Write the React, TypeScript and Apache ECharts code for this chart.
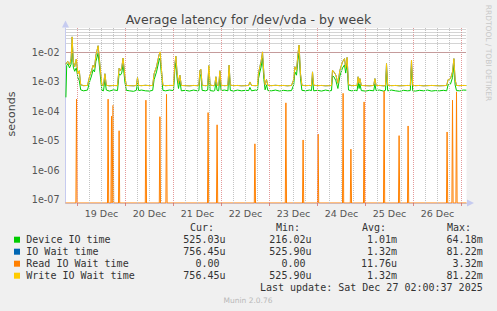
import { useEffect, useRef } from "react";
import * as echarts from "echarts";

// ---------- data (x = hours since Thu 18 Dec 2025 18:00) ----------
const TITLE = "Average latency for /dev/vda - by week";
const Y_NAME = "seconds";
const SIDE_TEXT = "RRDTOOL / TOBI OETIKER";

const dayLabels = ["19 Dec", "20 Dec", "21 Dec", "22 Dec", "23 Dec", "24 Dec", "25 Dec", "26 Dec"];
const dayLabelHours = [18, 42, 66, 90, 114, 138, 162, 186]; // noon of each day
const midnightHours = [6, 30, 54, 78, 102, 126, 150, 174, 198];

const yTickValues = [1e-7, 1e-6, 1e-5, 1e-4, 1e-3, 1e-2];
const yTickLabels = ["1e-07", "1e-06", "1e-05", "1e-04", "1e-03", "1e-02"];

// [hour, seconds]
const writeIO: [number, number][] = [
  [0.2, 4.0e-3], [0.6, 4.6e-3], [1.2, 5.0e-3], [2.0, 3.8e-3], [2.8, 6.0e-3], [3.3, 3.4e-2], [3.9, 5.0e-3],
  [4.6, 3.3e-3], [5.4, 6.0e-3], [6.2, 1.9e-3], [6.9, 2.4e-3], [7.6, 8.0e-4], [9.0, 7.5e-4], [11.0, 7.6e-4],
  [12.2, 1.7e-3], [13.0, 2.4e-3], [13.8, 3.7e-3], [14.5, 3.0e-3], [15.2, 8.1e-3], [15.8, 1.2e-2], [16.3, 1.7e-2],
  [17.0, 5.5e-3], [17.6, 2.0e-3], [18.2, 7.8e-4], [19.0, 7.6e-4], [19.7, 1.9e-3], [20.4, 7.7e-4], [22.0, 7.4e-4],
  [24.0, 7.6e-4], [26.0, 7.5e-4], [26.8, 2.9e-3], [27.4, 2.4e-3], [28.1, 3.0e-3], [28.8, 6.5e-3], [29.7, 1.5e-3],
  [30.4, 7.6e-4], [32.0, 7.5e-4], [34.0, 7.4e-4], [35.4, 7.6e-4], [36.0, 1.4e-3], [36.6, 7.6e-4], [38.0, 7.5e-4],
  [40.0, 7.7e-4], [42.0, 7.5e-4], [43.6, 7.6e-4], [44.3, 1.9e-3], [45.5, 3.3e-3], [46.8, 8.5e-3], [47.3, 1.05e-2],
  [48.0, 2.5e-3], [48.7, 7.7e-4], [50.0, 7.5e-4], [52.0, 7.6e-4], [54.0, 7.6e-4], [54.7, 4.2e-3], [55.2, 7.5e-3],
  [55.8, 2.0e-3], [56.5, 9.0e-4], [57.2, 1.7e-3], [57.9, 7.6e-4], [60.0, 7.5e-4], [62.0, 7.4e-4], [64.0, 7.6e-4],
  [66.0, 7.5e-4], [66.7, 7.6e-4], [67.2, 2.5e-3], [67.7, 2.7e-3], [68.3, 7.7e-4], [70.0, 7.5e-4], [71.1, 7.6e-4],
  [71.7, 3.6e-3], [72.3, 7.8e-4], [74.0, 7.5e-4], [74.6, 7.6e-4], [75.2, 1.5e-3], [75.8, 7.6e-4], [76.6, 7.5e-4],
  [77.2, 2.4e-3], [77.8, 7.7e-4], [79.5, 7.5e-4], [81.2, 7.6e-4], [81.8, 3.7e-3], [82.4, 7.8e-4], [84.0, 7.5e-4],
  [86.0, 7.6e-4], [88.0, 7.4e-4], [90.0, 7.5e-4], [91.6, 7.6e-4], [92.2, 1.0e-3], [93.0, 7.6e-4], [95.0, 7.5e-4],
  [96.0, 7.6e-4], [96.5, 2.0e-3], [97.2, 3.3e-3], [97.8, 5.0e-3], [98.5, 1.05e-2], [99.2, 1.9e-3], [99.8, 8.0e-4],
  [100.5, 1.2e-3], [101.2, 7.6e-4], [103.0, 7.5e-4], [105.0, 7.7e-4], [107.0, 7.5e-4], [109.0, 7.6e-4], [111.0, 7.4e-4],
  [113.0, 7.6e-4], [114.1, 1.2e-3], [114.7, 3.3e-3], [115.5, 2.5e-3], [116.3, 1.0e-2], [116.8, 1.8e-2], [117.5, 1.9e-3],
  [118.2, 7.7e-4], [120.0, 7.5e-4], [122.0, 7.6e-4], [123.0, 7.5e-4], [123.5, 2.2e-3], [124.1, 7.7e-4], [126.0, 7.5e-4],
  [128.0, 7.6e-4], [130.0, 7.4e-4], [132.0, 7.5e-4], [133.0, 7.6e-4], [133.5, 2.5e-3], [134.2, 2.2e-3], [135.2, 1.7e-3],
  [136.2, 9.0e-4], [137.2, 2.5e-3], [138.5, 4.8e-3], [139.5, 6.2e-3], [140.1, 3.0e-3], [140.8, 6.8e-3], [141.5, 8.0e-4],
  [143.0, 7.5e-4], [145.0, 7.6e-4], [145.8, 7.5e-4], [146.3, 1.5e-3], [146.8, 9.0e-4], [147.2, 1.3e-3], [147.9, 7.6e-4],
  [150.0, 7.5e-4], [152.0, 7.4e-4], [154.1, 7.6e-4], [154.7, 1.3e-3], [155.3, 7.5e-4], [157.0, 7.6e-4], [159.0, 7.4e-4],
  [160.0, 7.5e-4], [160.5, 4.2e-3], [161.1, 7.7e-4], [163.0, 7.5e-4], [165.0, 7.6e-4], [167.0, 7.4e-4], [169.0, 7.5e-4],
  [171.0, 7.6e-4], [172.4, 7.5e-4], [173.0, 5.5e-3], [173.6, 7.7e-4], [175.0, 7.5e-4], [177.0, 7.6e-4], [179.0, 7.4e-4],
  [181.0, 7.5e-4], [183.0, 7.6e-4], [185.0, 7.5e-4], [187.0, 7.4e-4], [189.0, 7.5e-4], [190.6, 7.6e-4], [191.3, 1.2e-3],
  [192.5, 1.3e-3], [193.5, 2.2e-3], [194.2, 6.2e-3], [194.8, 1.2e-3], [195.5, 7.6e-4], [197.0, 7.5e-4], [199.0, 7.6e-4],
  [200.4, 7.56e-4],
];

const deviceIO: [number, number][] = [
  [0.2, 3.0e-4], [0.6, 3.6e-3], [1.2, 4.2e-3], [2.0, 3.0e-3], [2.8, 4.0e-3], [3.3, 1.8e-2], [3.9, 3.2e-3],
  [4.6, 2.3e-3], [5.4, 3.0e-3], [6.2, 1.4e-3], [6.9, 1.1e-3], [7.6, 5.4e-4], [9.0, 5.0e-4], [11.0, 5.3e-4],
  [12.2, 1.1e-3], [13.0, 1.6e-3], [13.8, 2.6e-3], [14.5, 2.2e-3], [15.2, 5.0e-3], [15.8, 7.0e-3], [16.3, 9.5e-3],
  [17.0, 3.2e-3], [17.6, 1.2e-3], [18.2, 5.2e-4], [19.0, 5.0e-4], [19.7, 1.2e-3], [20.4, 5.3e-4], [22.0, 4.9e-4],
  [24.0, 5.4e-4], [26.0, 5.1e-4], [26.8, 1.9e-3], [27.4, 1.7e-3], [28.1, 2.0e-3], [28.8, 4.0e-3], [29.7, 1.0e-3],
  [30.4, 5.2e-4], [32.0, 5.0e-4], [34.0, 4.8e-4], [35.4, 5.2e-4], [36.0, 9.0e-4], [36.6, 5.1e-4], [38.0, 5.3e-4],
  [40.0, 5.0e-4], [42.0, 4.9e-4], [43.6, 5.2e-4], [44.3, 1.2e-3], [45.5, 2.2e-3], [46.8, 5.5e-3], [47.3, 6.5e-3],
  [48.0, 1.6e-3], [48.7, 5.2e-4], [50.0, 5.0e-4], [52.0, 5.3e-4], [54.0, 5.1e-4], [54.7, 2.7e-3], [55.2, 4.5e-3],
  [55.8, 1.3e-3], [56.5, 6.0e-4], [57.2, 1.1e-3], [57.9, 5.0e-4], [60.0, 5.2e-4], [62.0, 4.9e-4], [64.0, 5.3e-4],
  [66.0, 5.0e-4], [66.7, 5.1e-4], [67.2, 1.6e-3], [67.7, 1.8e-3], [68.3, 5.2e-4], [70.0, 5.0e-4], [71.1, 5.3e-4],
  [71.7, 2.3e-3], [72.3, 5.1e-4], [74.0, 4.9e-4], [74.6, 5.1e-4], [75.2, 1.0e-3], [75.8, 5.2e-4], [76.6, 5.0e-4],
  [77.2, 1.5e-3], [77.8, 5.1e-4], [79.5, 5.3e-4], [81.2, 5.0e-4], [81.8, 2.4e-3], [82.4, 5.2e-4], [84.0, 4.9e-4],
  [86.0, 5.3e-4], [88.0, 5.0e-4], [90.0, 5.2e-4], [91.6, 5.1e-4], [92.2, 6.5e-4], [93.0, 5.0e-4], [95.0, 5.3e-4],
  [96.0, 5.1e-4], [96.5, 1.3e-3], [97.2, 2.2e-3], [97.8, 3.2e-3], [98.5, 6.5e-3], [99.2, 1.2e-3], [99.8, 5.4e-4],
  [100.5, 8.0e-4], [101.2, 5.1e-4], [103.0, 5.0e-4], [105.0, 5.3e-4], [107.0, 4.9e-4], [109.0, 5.2e-4], [111.0, 5.0e-4],
  [113.0, 5.1e-4], [114.1, 8.0e-4], [114.7, 2.2e-3], [115.5, 1.7e-3], [116.3, 6.0e-3], [116.8, 1.0e-2], [117.5, 1.3e-3],
  [118.2, 5.2e-4], [120.0, 5.0e-4], [122.0, 5.3e-4], [123.0, 5.1e-4], [123.5, 1.4e-3], [124.1, 5.0e-4], [126.0, 5.2e-4],
  [128.0, 4.9e-4], [130.0, 5.3e-4], [132.0, 5.0e-4], [133.0, 5.1e-4], [133.5, 1.6e-3], [134.2, 1.5e-3], [135.2, 1.1e-3],
  [136.2, 6.0e-4], [137.2, 1.6e-3], [138.5, 3.0e-3], [139.5, 3.8e-3], [140.1, 2.0e-3], [140.8, 4.2e-3], [141.5, 5.3e-4],
  [143.0, 5.0e-4], [145.0, 5.2e-4], [145.8, 5.0e-4], [146.3, 1.0e-3], [146.8, 6.0e-4], [147.2, 8.5e-4], [147.9, 5.1e-4],
  [150.0, 4.9e-4], [152.0, 5.2e-4], [154.1, 5.0e-4], [154.7, 8.5e-4], [155.3, 5.1e-4], [157.0, 5.3e-4], [159.0, 4.9e-4],
  [160.0, 5.2e-4], [160.5, 2.6e-3], [161.1, 5.0e-4], [163.0, 5.3e-4], [165.0, 5.0e-4], [167.0, 4.8e-4], [169.0, 5.2e-4],
  [171.0, 5.0e-4], [172.4, 5.1e-4], [173.0, 3.4e-3], [173.6, 5.0e-4], [175.0, 4.9e-4], [177.0, 5.2e-4], [179.0, 5.0e-4],
  [181.0, 5.3e-4], [183.0, 4.9e-4], [185.0, 5.1e-4], [187.0, 5.0e-4], [189.0, 5.2e-4], [190.6, 5.0e-4], [191.3, 8.0e-4],
  [192.5, 8.5e-4], [193.5, 1.4e-3], [194.2, 3.8e-3], [194.8, 8.0e-4], [195.5, 5.1e-4], [197.0, 5.0e-4], [199.0, 5.3e-4],
  [200.4, 5.25e-4],
];

// IO Wait time equals the write wait here (read wait is zero almost everywhere)
const ioWait: [number, number][] = writeIO;

// Read IO wait: zero except for these spikes
const readSpikeHours = [5.5, 21.3, 23.0, 23.8, 26.8, 40.2, 47.2, 50.5, 71.3, 75.8, 94.7, 110.2, 118.8, 126.3,
  138.8, 142.7, 149.3, 159.3, 166.8, 171.3, 190.8, 193.5, 195.5];
const readSpikeValues = [2.6e-4, 2.6e-4, 6.9e-5, 1.6e-4, 2.2e-5, 2.4e-4, 6.6e-5, 3.8e-4, 9.1e-5, 3.5e-5, 7.9e-6,
  1.95e-4, 1.07e-5, 1.7e-5, 4.1e-4, 5.2e-6, 2.1e-4, 4.9e-4, 1.5e-5, 3.2e-5, 2.0e-5, 2.4e-4, 4.6e-4];

const legendNames = ["Device IO time", "IO Wait time", "Read IO Wait time", "Write IO Wait time"];
const legendColors = ["#00CC00", "#0066B3", "#FF8000", "#FFCC00"];
const columnHeads = ["Cur:", "Min:", "Avg:", "Max:"];
const curVals = ["525.03u", "756.45u", "0.00", "756.45u"];
const minVals = ["216.02u", "525.90u", "0.00", "525.90u"];
const avgVals = ["1.01m", "1.32m", "11.76u", "1.32m"];
const maxVals = ["64.18m", "81.22m", "3.32m", "81.22m"];
const LAST_UPDATE = "Last update: Sat Dec 27 02:00:37 2025";
const VERSION = "Munin 2.0.76";

// ---------- layout ----------
const W = 497;
const H = 311;
const GRID_LEFT = 65.5;
const GRID_TOP = 28;
const GRID_W = 401;
const GRID_H = 175;
const X_MAX = 200.5;
const Y_MIN = Math.pow(10, -7.112);
const Y_MAX = Math.pow(10, -1.167);

const MONO = '"DejaVu Sans Mono", monospace';
const SANS = '"DejaVu Sans", sans-serif';
const CHAR_W = 6.02;

function buildOption() {
  // read series with zero floor
  const readData: [number, number][] = [[0, Y_MIN]];
  readSpikeHours.forEach((h, i) => {
    readData.push([h - 0.3, Y_MIN]);
    readData.push([h, readSpikeValues[i]]);
    readData.push([h + 0.3, Y_MIN]);
  });
  readData.push([X_MAX, Y_MIN]);

  const vMajor = { color: "#e49a9a", width: 1, type: [1, 1] as number[] };
  const vMinor = { color: "#c4c4c4", width: 1, type: [1, 1] as number[] };
  const hMajor = { color: "#de8a8a", width: 1, type: [1, 1] as number[], dashOffset: 0.5 };
  const hMinor = { color: "#a8a8a8", width: 1, type: [1, 1] as number[], dashOffset: 0.5 };

  const gridLines: any[] = [];
  for (let h = 6; h < X_MAX; h += 6) {
    const isMid = midnightHours.indexOf(h) >= 0;
    gridLines.push({ xAxis: h, lineStyle: isMid ? vMajor : vMinor });
  }
  for (let e = -8; e <= -1; e++) {
    for (let m = 1; m <= 9; m++) {
      const v = m * Math.pow(10, e);
      if (v <= Y_MIN || v >= Y_MAX) continue;
      gridLines.push({ yAxis: v, lineStyle: m === 1 ? hMajor : hMinor });
    }
  }

  const graphics: any[] = [];
  graphics.push({
    type: "text", x: 248.5, y: 19.5, silent: true,
    style: { text: TITLE, fontSize: 12.5, fontFamily: SANS, fill: "#444", align: "center", verticalAlign: "middle" },
  });
  graphics.push({
    type: "text", x: 11, y: 114, rotation: Math.PI / 2, silent: true,
    style: { text: Y_NAME, fontSize: 11, fontFamily: SANS, fill: "#444", align: "center", verticalAlign: "middle" },
  });
  graphics.push({
    type: "text", x: 488, y: 53, rotation: -Math.PI / 2, silent: true,
    style: { text: SIDE_TEXT, fontSize: 7.5, fontFamily: SANS, fill: "#c8c8c8", align: "center", verticalAlign: "middle" },
  });

  const headX = [190, 276, 362, 447];
  columnHeads.forEach((t, i) => {
    graphics.push({
      type: "text", x: headX[i], y: 227.7, silent: true,
      style: { text: t, fontSize: 10, fontFamily: MONO, fill: "#333", align: "left", verticalAlign: "middle" },
    });
  });
  const colRight = [225.5, 311.5, 397, 482.7];
  const cols = [curVals, minVals, avgVals, maxVals];
  legendNames.forEach((name, r) => {
    const y = 239.7 + 12 * r;
    graphics.push({ type: "rect", silent: true, shape: { x: 14, y: y - 3, width: 6, height: 6 }, style: { fill: legendColors[r] } });
    graphics.push({
      type: "text", x: 26.3, y, silent: true,
      style: { text: name, fontSize: 10, fontFamily: MONO, fill: "#333", align: "left", verticalAlign: "middle" },
    });
    cols.forEach((col, c) => {
      const s = col[r];
      const hasUnit = /[a-zA-Z]$/.test(s);
      graphics.push({
        type: "text", x: colRight[c] - (hasUnit ? 0 : CHAR_W), y, silent: true,
        style: { text: s, fontSize: 10, fontFamily: MONO, fill: "#333", align: "right", verticalAlign: "middle" },
      });
    });
  });
  graphics.push({
    type: "text", x: 482.7, y: 287.7, silent: true,
    style: { text: LAST_UPDATE, fontSize: 10, fontFamily: MONO, fill: "#333", align: "right", verticalAlign: "middle" },
  });
  graphics.push({
    type: "text", x: 248, y: 300.5, silent: true,
    style: { text: VERSION, fontSize: 7.5, fontFamily: SANS, fill: "#b8b8b8", align: "center", verticalAlign: "middle" },
  });

  const axisColor = "#c6cbf0";

  return {
    animation: false,
    backgroundColor: "#f0f0f0",
    grid: {
      left: GRID_LEFT, top: GRID_TOP, width: GRID_W, height: GRID_H,
      show: true, backgroundColor: "#ffffff", borderWidth: 0, containLabel: false,
    },
    xAxis: {
      type: "value", min: 0, max: X_MAX,
      splitLine: { show: false },
      axisLine: {
        show: true, onZero: false, lineStyle: { color: axisColor, width: 1 },
        symbol: ["none", "triangle"], symbolSize: [7, 7], symbolOffset: [0, 4],
      },
      axisTick: { show: true, customValues: midnightHours, length: 3, lineStyle: { color: "rgba(210,90,90,0.7)" } },
      axisLabel: {
        customValues: dayLabelHours,
        formatter: (v: number) => {
          const i = dayLabelHours.indexOf(Math.round(v));
          return i >= 0 ? dayLabels[i] : "";
        },
        color: "#555", fontSize: 9.5, fontFamily: SANS, margin: 5,
      },
    },
    yAxis: {
      type: "log", logBase: 10, min: Y_MIN, max: Y_MAX,
      splitLine: { show: false },
      minorSplitLine: { show: false },
      axisLine: {
        show: true, onZero: false, lineStyle: { color: axisColor, width: 1 },
        symbol: ["none", "triangle"], symbolSize: [7, 7], symbolOffset: [0, 4],
      },
      axisTick: { show: false },
      axisLabel: {
        showMinLabel: false, showMaxLabel: false,
        formatter: (v: number) => {
          const lv = Math.log10(v);
          const e = Math.round(lv);
          if (Math.abs(lv - e) > 0.01) return "";
          const i = yTickValues.findIndex((t) => Math.round(Math.log10(t)) === e);
          return i >= 0 ? yTickLabels[i] : "";
        },
        color: "#555", fontSize: 9.6, fontFamily: SANS, margin: 6,
      },
    },
    graphic: graphics,
    series: [
      {
        name: "grid", type: "line", data: [[1, 1e-3]], symbol: "none", showSymbol: false,
        lineStyle: { opacity: 0 }, z: 1, silent: true,
        markLine: { silent: true, symbol: ["none", "none"], label: { show: false }, animation: false, data: gridLines },
      },
      {
        name: legendNames[0], type: "line", data: deviceIO, symbol: "none", showSymbol: false, z: 2,
        lineStyle: { width: 1, color: legendColors[0] }, itemStyle: { color: legendColors[0] },
      },
      {
        name: legendNames[1], type: "line", data: ioWait, symbol: "none", showSymbol: false, z: 3,
        lineStyle: { width: 1, color: legendColors[1] }, itemStyle: { color: legendColors[1] },
      },
      {
        name: legendNames[2], type: "line", data: readData, symbol: "none", showSymbol: false, z: 4,
        lineStyle: { width: 1, color: legendColors[2] }, itemStyle: { color: legendColors[2] },
      },
      {
        name: legendNames[3], type: "line", data: writeIO, symbol: "none", showSymbol: false, z: 5,
        lineStyle: { width: 1, color: legendColors[3] }, itemStyle: { color: legendColors[3] },
      },
    ],
  };
}

export default function App() {
  const ref = useRef<HTMLDivElement>(null);
  useEffect(() => {
    if (!ref.current) return;
    const chart = echarts.init(ref.current, null, { renderer: "svg" });
    chart.setOption(buildOption() as any);
    return () => chart.dispose();
  }, []);
  return <div ref={ref} style={{ position: "fixed", left: 0, top: 0, width: W, height: H }} />;
}
